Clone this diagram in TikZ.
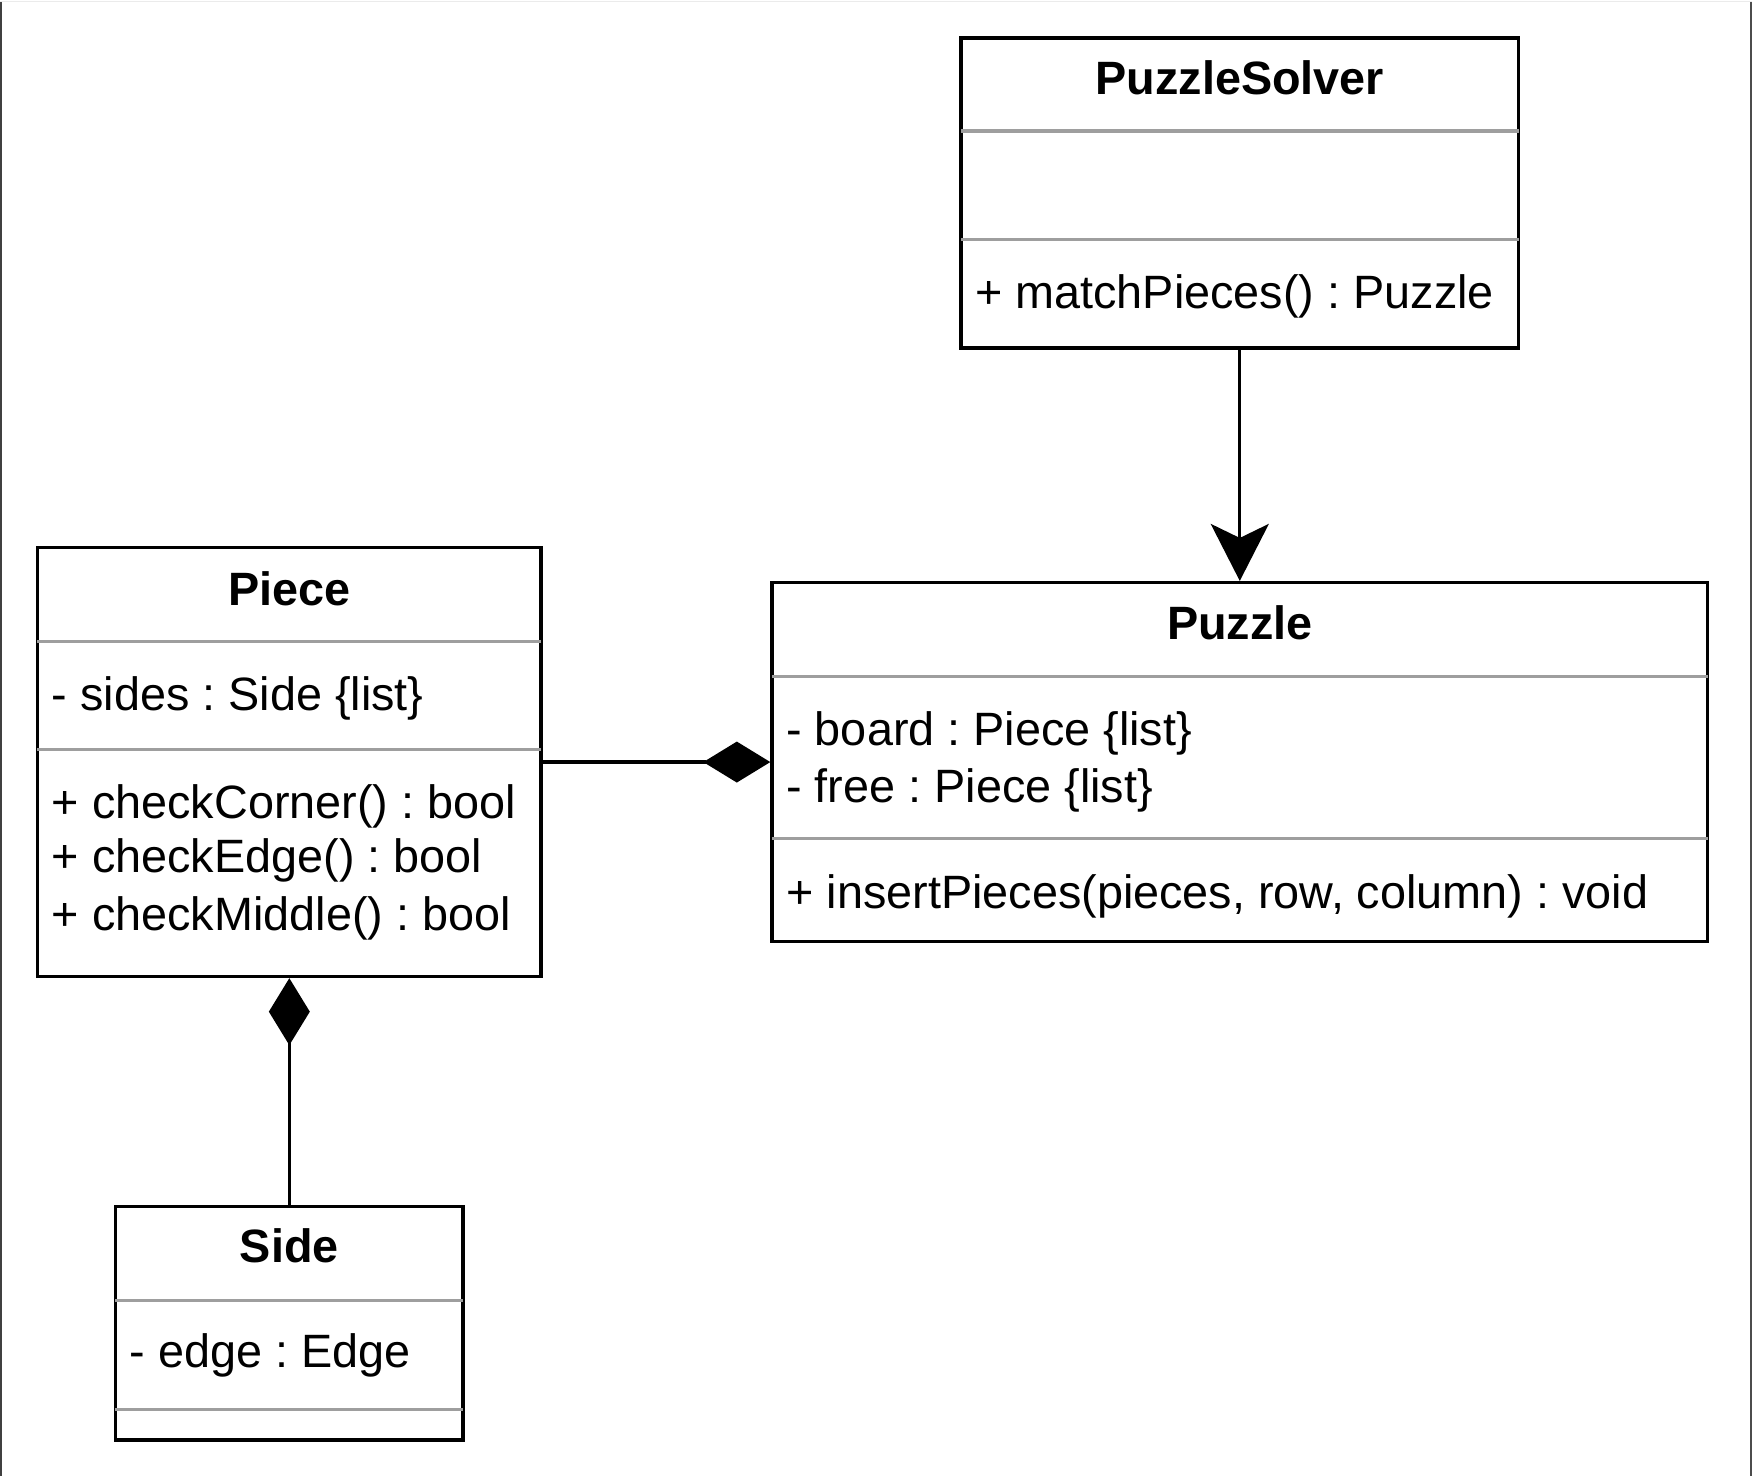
\documentclass[tikz,border=0pt]{standalone}
\usepackage{fontspec}
\setmainfont{Liberation Sans}
\frenchspacing
\usetikzlibrary{
    arrows.meta,
    fit,
    positioning,
}

\begin{document}
\begin{tikzpicture}[
    x=0.5pt, y=-0.5pt,
    font=\fontsize{23.4}{28}\selectfont,
    umlclass/.style={draw, line width=1.75pt, inner sep=0pt},
    classname/.style={anchor=base, inner sep=0pt, font=\fontsize{23.4}{28}\selectfont\bfseries},
    member/.style={anchor=base west, inner sep=0pt},
    divider/.style={draw=black!38, line width=1.6pt, shorten <=0.85pt, shorten >=0.85pt},
    link/.style={line width=1.6pt},
    owns/.style={link, -{Diamond[length=33.5pt, width=20.5pt]}},
    uses/.style={link, -{Stealth[length=28.5pt, width=29pt, inset=7pt]}},
]

\path[fill=white] (0,0) rectangle (1752,1476);
% page edges
\draw[black!75, line width=1pt] (1,0) -- (1,1476);
\draw[black!70, line width=1pt] (1751,0) -- (1751,1476);
\draw[black!8, line width=0.5pt] (0,0.5) -- (1752,0.5);

% PuzzleSolver
\node[umlclass, fit={(961,37) (1519,347)}] (solver) {};
\node[classname] (solverName) at (1240,94) {PuzzleSolver};
\draw[divider] (solver.west |- 0,130) -- (solver.east |- 0,130);
\draw[divider] (solver.west |- 0,239) -- (solver.east |- 0,239);
\node[member] (solverOp) at (975,308) {+ matchPieces() : Puzzle};

% Puzzle
\node[umlclass, fit={(772,582) (1708,941)}] (puzzle) {};
\node[classname] (puzzleName) at (1240,639) {Puzzle};
\draw[divider] (puzzle.west |- 0,676) -- (puzzle.east |- 0,676);
\node[member] (puzzleBoard) at (786,745) {- board : Piece \{list\}};
\node[member] (puzzleFree) at (786,802) {- free : Piece \{list\}};
\draw[divider] (puzzle.west |- 0,838) -- (puzzle.east |- 0,838);
\node[member] (puzzleOp) at (786,908) {+ insertPieces(pieces, row, column) : void};

% Piece
\node[umlclass, fit={(37,547) (541,976)}] (piece) {};
\node[classname] (pieceName) at (289,605) {Piece};
\draw[divider] (piece.west |- 0,641) -- (piece.east |- 0,641);
\node[member] (pieceSides) at (51,710) {- sides : Side \{list\}};
\draw[divider] (piece.west |- 0,749) -- (piece.east |- 0,749);
\node[member] (pieceCorner) at (51,818) {+ checkCorner() : bool};
\node[member] (pieceEdge) at (51,872) {+ checkEdge() : bool};
\node[member] (pieceMiddle) at (51,930) {+ checkMiddle() : bool};

% Side
\node[umlclass, fit={(115,1206) (463,1440)}] (side) {};
\node[classname] (sideName) at (289,1262) {Side};
\draw[divider] (side.west |- 0,1300) -- (side.east |- 0,1300);
\node[member] (sideEdge) at (129,1367) {- edge : Edge};
\draw[divider] (side.west |- 0,1409) -- (side.east |- 0,1409);

% relations
\draw[uses] (solver) -- (puzzle);
\draw[owns] (piece) -- (puzzle);
\draw[owns] (side) -- (piece);

\end{tikzpicture}
\end{document}
